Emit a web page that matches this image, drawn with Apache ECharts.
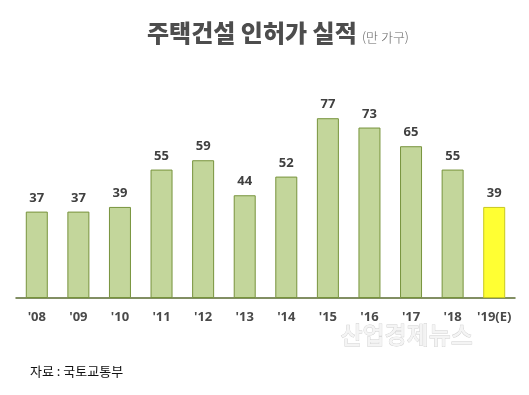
<!DOCTYPE html>
<html><head><meta charset="utf-8">
<script src="https://cdn.jsdelivr.net/npm/echarts@6/dist/echarts.min.js"></script>
<style>html,body{margin:0;padding:0;background:#fff}#c{width:529px;height:395px}</style>
</head><body><div id="c"></div>
<script>
var categories = ["'08","'09","'10","'11","'12","'13","'14","'15","'16","'17","'18","'19(E)"];
var values = [37,37,39,55,59,44,52,77,73,65,55,39];
var estimateIndex = 11;
var titleText = "주택건설 인허가 실적";
var unitText = "(만 가구)";
var sourceText = "자료 : 국토교통부";
var watermarkText = "산업경제뉴스";

var chart = echarts.init(document.getElementById('c'));
chart.setOption({
  animation:false,
  backgroundColor:'#fff',
  grid:{left:16,right:14,top:64.5,bottom:97,containLabel:false},
  xAxis:{type:'category',data:categories,
    axisLine:{lineStyle:{color:'#5a6b30',width:1.5}},
    axisTick:{show:false},
    axisLabel:{color:'#4a4a4a',fontWeight:'bold',fontSize:13,margin:13,fontFamily:'"Open Sans","Noto Sans",sans-serif',interval:0}},
  yAxis:{type:'value',min:0,max:100,show:false,splitLine:{show:false}},
  series:[{type:'bar',barWidth:22,
    data:values.map(function(v,i){
      return {value:v,itemStyle:i===estimateIndex?{color:'#ffff33',borderColor:'#c8c820',borderWidth:1}:{color:'#c3d69b',borderColor:'#77933c',borderWidth:1}};
    }),
    label:{show:true,position:'top',distance:7,color:'#404040',fontWeight:'bold',fontSize:13,fontFamily:'"Open Sans","Noto Sans",sans-serif'}
  }],
  graphic:[
    {type:'text',left:147,top:21,style:{text:titleText,font:'900 24px "Noto Sans CJK KR"',fill:'#4d4d4d'}},
    {type:'text',left:362,top:31,style:{text:unitText,font:'300 13px "Noto Sans CJK KR"',fill:'#666'}},
    {type:'text',left:30,top:365,style:{text:sourceText,font:'13px "Noto Sans CJK KR"',fill:'#111'}},
    {type:'text',left:340,top:322,style:{text:watermarkText,font:'500 24px "Noto Sans CJK KR"',fill:'#f4f4f4',stroke:'#cfcfcf',lineWidth:0.8}}
  ]
});
</script></body></html>
